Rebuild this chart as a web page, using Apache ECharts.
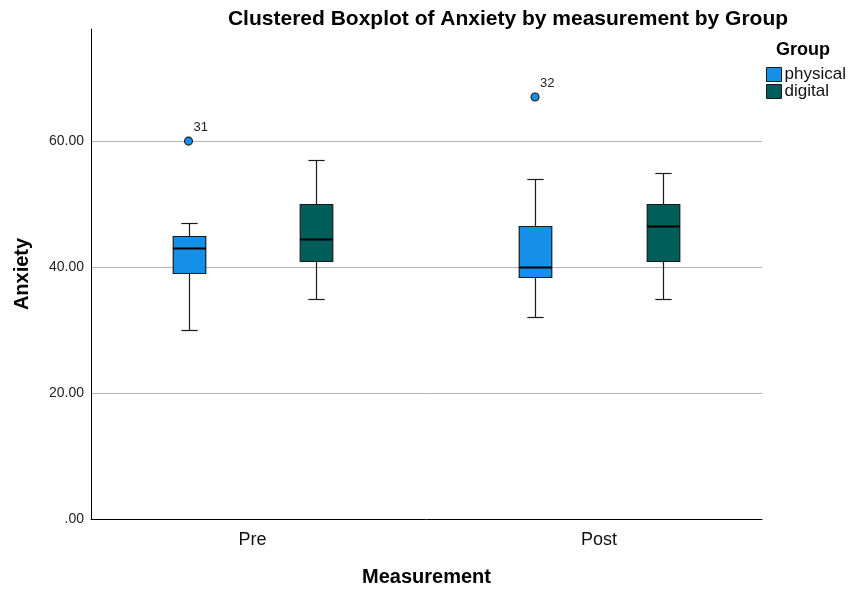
<!DOCTYPE html>
<html>
<head>
<meta charset="utf-8">
<script src="https://cdn.jsdelivr.net/npm/echarts@6/dist/echarts.min.js"></script>
<style>
html,body{margin:0;padding:0;background:#fff;}
#chart{width:852px;height:590px;}
</style>
</head>
<body>
<div id="chart"></div>
<script>
// ---- data ----
const categories = ['Pre', 'Post'];
const groups = ['physical', 'digital'];
// [min, Q1, median, Q3, max] per category
const physicalStats = [[30, 39, 43, 45, 47], [32, 38.5, 40, 46.5, 54]];
const digitalStats = [[35, 41, 44.5, 50, 57], [35, 41, 46.5, 50, 55]];
// outliers: [category index, value]
const physicalOutliers = [[0, 60], [1, 67]];
const physicalOutlierLabels = ['31', '32'];
const digitalOutliers = [];
const digitalOutlierLabels = [];
const yTicks = [0, 20, 40, 60];

// ---- style ----
const colors = ['#1490E8', '#005E5A'];
const offsets = [-0.1847, 0.1847];   // cluster offset as fraction of band
const boxRatio = 0.094;              // box width as fraction of band
const FONT = 'Liberation Sans, Arial, sans-serif';
const edge = '#1a1a1a';

function boxRender(si) {
  return function (params, api) {
    const cat = api.value(0);
    const bw = api.size([1, 0])[0];
    const cx = Math.round(api.coord([cat, 0])[0] + offsets[si] * bw) + 0.5;
    const half = boxRatio * bw / 2;
    const cap = half / 2;
    const y = d => Math.round(api.coord([cat, api.value(d)])[1]) + 0.5;
    const yMin = y(1), yQ1 = y(2), yMed = y(3), yQ3 = y(4), yMax = y(5);
    const ls = { stroke: edge, lineWidth: 1.2 };
    return {
      type: 'group',
      children: [
        { type: 'line', shape: { x1: cx, y1: yMax, x2: cx, y2: yQ3 }, style: ls },
        { type: 'line', shape: { x1: cx, y1: yQ1, x2: cx, y2: yMin }, style: ls },
        { type: 'line', shape: { x1: cx - cap, y1: yMax, x2: cx + cap, y2: yMax }, style: ls },
        { type: 'line', shape: { x1: cx - cap, y1: yMin, x2: cx + cap, y2: yMin }, style: ls },
        { type: 'rect', shape: { x: cx - half, y: yQ3, width: 2 * half, height: yQ1 - yQ3 },
          style: { fill: colors[si], stroke: edge, lineWidth: 1.2 } },
        { type: 'line', shape: { x1: cx - half, y1: yMed, x2: cx + half, y2: yMed },
          style: { stroke: '#000', lineWidth: 2.2 } }
      ]
    };
  };
}

function outlierRender(si, labels) {
  return function (params, api) {
    const cat = api.value(0);
    const bw = api.size([1, 0])[0];
    const cx = api.coord([cat, 0])[0] + offsets[si] * bw;
    const cy = api.coord([cat, api.value(1)])[1];
    return {
      type: 'group',
      children: [
        { type: 'circle', shape: { cx: cx, cy: cy, r: 4 },
          style: { fill: colors[si], stroke: edge, lineWidth: 1.1 } },
        { type: 'text', x: cx + 5, y: cy - 7,
          style: { text: labels[params.dataIndex], fill: '#222', font: '13px ' + FONT,
                   align: 'left', verticalAlign: 'bottom' } }
      ]
    };
  };
}

const physData = physicalStats.map((s, i) => [i].concat(s));
const digiData = digitalStats.map((s, i) => [i].concat(s));

const chart = echarts.init(document.getElementById('chart'), null, { renderer: 'canvas' });
chart.setOption({
  backgroundColor: '#fff',
  animation: false,
  title: [
    { text: 'Clustered Boxplot of Anxiety by measurement by Group', left: 503, top: 4, textAlign: 'center',
      textStyle: { fontFamily: FONT, fontWeight: 'bold', fontSize: 21, color: '#000' } },
    { text: 'Group', left: 776, top: 41, padding: 0,
      textStyle: { fontFamily: FONT, fontWeight: 'bold', fontSize: 18, color: '#000' } }
  ],
  legend: {
    data: groups,
    orient: 'vertical',
    left: 766, top: 66, padding: 0,
    icon: 'rect',
    itemWidth: 15, itemHeight: 14, itemGap: 0,
    itemStyle: { borderColor: edge, borderWidth: 1 },
    textStyle: { fontFamily: FONT, fontSize: 17, lineHeight: 16, color: '#111', padding: [0, 0, 0, -2] }
  },
  grid: [
    { left: 79.25, right: 79.75, top: 29, bottom: 71, containLabel: false, outerBoundsMode: 'none' },
    { left: 91, right: 90, top: 29, bottom: 71, containLabel: false, outerBoundsMode: 'none' }
  ],
  xAxis: [
    { type: 'category', gridIndex: 0, data: categories, boundaryGap: true,
      axisLine: { show: false }, axisTick: { show: false }, splitLine: { show: false },
      axisLabel: { fontFamily: FONT, fontSize: 18, color: '#111', margin: 12 } },
    { type: 'value', gridIndex: 1, min: 0, max: 1,
      axisLine: { show: true, lineStyle: { color: '#000', width: 1 } },
      axisTick: { show: false }, axisLabel: { show: false }, splitLine: { show: false },
      name: 'Measurement', nameLocation: 'middle', nameGap: 48,
      nameTextStyle: { fontFamily: FONT, fontWeight: 'bold', fontSize: 20, color: '#000' } }
  ],
  yAxis: [
    { type: 'value', gridIndex: 0, min: 0, max: 77.8, show: false },
    { type: 'value', gridIndex: 1, min: 0, max: 77.8, interval: 20,
      axisLine: { show: true, lineStyle: { color: '#000', width: 1 } },
      axisTick: { show: false },
      axisLabel: { fontFamily: FONT, fontSize: 14, color: '#222', margin: 7, showMaxLabel: false,
        formatter: v => yTicks.indexOf(v) < 0 ? '' : (v === 0 ? '.00' : v.toFixed(2)) },
      splitLine: { show: true, showMinLine: false, showMaxLine: false, lineStyle: { color: '#b4b4b4', width: 1 } },
      name: 'Anxiety', nameLocation: 'middle', nameGap: 59,
      nameTextStyle: { fontFamily: FONT, fontWeight: 'bold', fontSize: 20, color: '#000' } }
  ],
  series: [
    { name: 'physical', type: 'custom', xAxisIndex: 0, yAxisIndex: 0, data: physData,
      encode: { x: 0, y: [1, 2, 3, 4, 5] }, itemStyle: { color: colors[0] }, renderItem: boxRender(0) },
    { name: 'digital', type: 'custom', xAxisIndex: 0, yAxisIndex: 0, data: digiData,
      encode: { x: 0, y: [1, 2, 3, 4, 5] }, itemStyle: { color: colors[1] }, renderItem: boxRender(1) },
    { name: 'physical', type: 'custom', xAxisIndex: 0, yAxisIndex: 0, data: physicalOutliers,
      encode: { x: 0, y: 1 }, itemStyle: { color: colors[0] }, renderItem: outlierRender(0, physicalOutlierLabels) },
    { name: 'digital', type: 'custom', xAxisIndex: 0, yAxisIndex: 0, data: digitalOutliers,
      encode: { x: 0, y: 1 }, itemStyle: { color: colors[1] }, renderItem: outlierRender(1, digitalOutlierLabels) }
  ]
});
</script>
</body>
</html>
